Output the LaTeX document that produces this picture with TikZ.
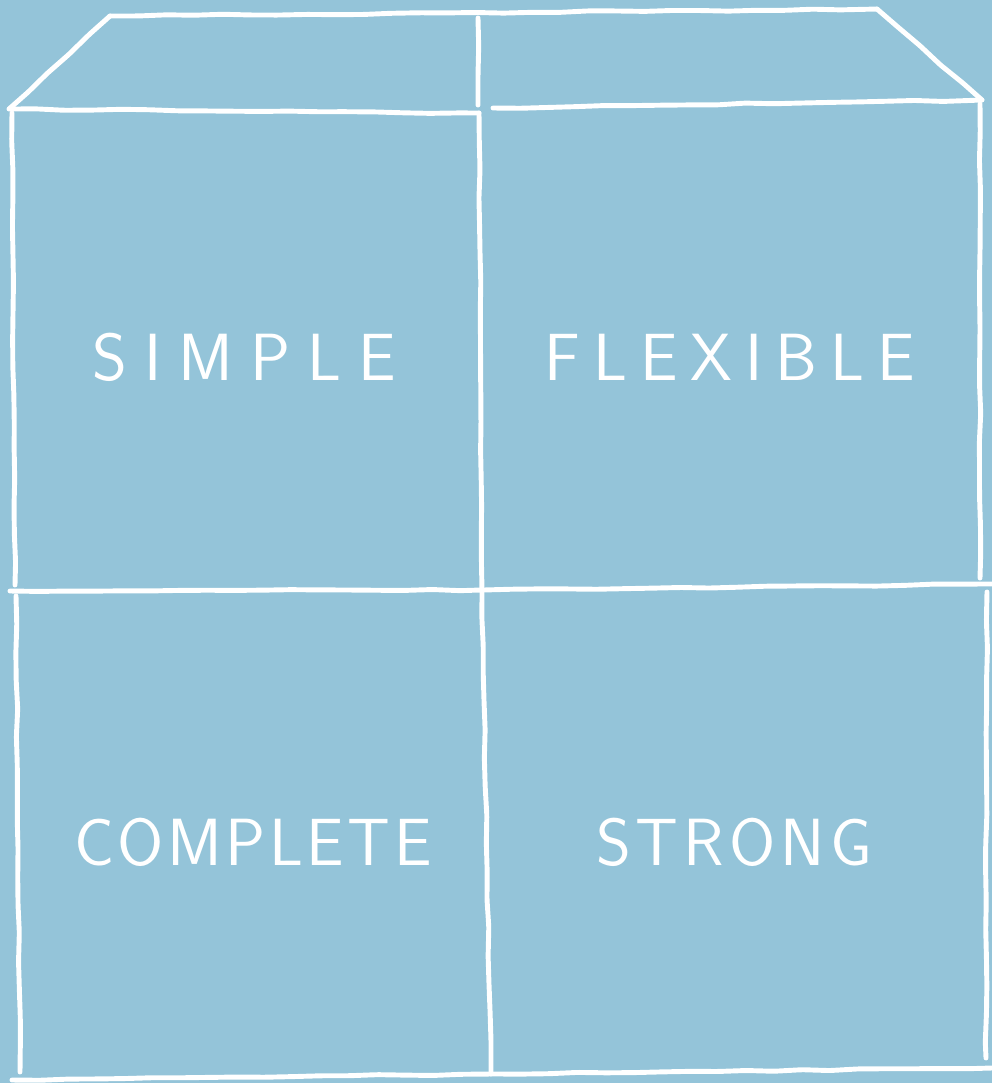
\documentclass[tikz,border=0pt]{standalone}
\usepackage{fontspec}
\usetikzlibrary{calc, decorations.pathmorphing}
\definecolor{cielo}{RGB}{148,196,217}
\newcommand{\spaziatura}[1]{\spaceskip #1 plus 0pt minus 0pt\relax}
\tikzset{
  tratto/.style={draw=white, line width=2.8pt, line cap=round, rounded corners=1pt,
    decorate, decoration={random steps, segment length=16pt, amplitude=0.45pt}},
  scritta/.style={text=white, inner sep=0pt,
    font={\sffamily\fontsize{38}{40}\selectfont\spaziatura{#1}}},
}

\begin{document}
\begin{tikzpicture}[x=0.02cm, y=-0.02cm]
    % sfondo
    \fill[cielo] (0,0) rectangle (992,1083);
    \useasboundingbox (0,0) rectangle (992,1083);

    % punti
    \coordinate (TL) at (110,16);
    \coordinate (TR) at (877,9);
    \coordinate (TM) at (478,18);
    \coordinate (FL) at (9,109);
    \coordinate (FM) at (479,113);
    \coordinate (FMr) at (493,108);
    \coordinate (FR) at (982,100);
    \coordinate (ML) at (10,591);
    \coordinate (MM) at (482,590);
    \coordinate (MR) at (992,584);
    \coordinate (BL) at (12,1080);
    \coordinate (BM) at (491,1074);
    \coordinate (BR) at (992,1068);

    % coperchio
    \draw[tratto] (TL) -- (TR);
    \draw[tratto] (TL) -- (FL);
    \draw[tratto] (TR) -- (FR);
    \draw[tratto] (TM) -- (478,105);

    % bordi orizzontali
    \draw[tratto] (FL) -- (FM);
    \draw[tratto] (FMr) -- (FR);
    \draw[tratto] (ML) -- (MM) -- (MR);
    \draw[tratto] (BL) -- (BM) -- (BR);

    % bordi verticali
    \draw[tratto] (12,113) -- (15,585);
    \draw[tratto] (16,596) -- (20,1072);
    \draw[tratto] (FM) -- (MM);
    \draw[tratto] (MM) -- (BM);
    \draw[tratto] (980,104) -- (980,578);
    \draw[tratto] (987,592) -- (986,1058);

    % etichette
    \node[scritta=9.7pt] (simple) at (244,357) {S I M P L E};
    \node[scritta=7.4pt] (flexible) at (730,357) {F L E X I B L E};
    \node[scritta=2pt] (complete) at (253,842) {C O M P L E T E};
    \node[scritta=2.9pt] (strong) at (734,842) {S T R O N G};
\end{tikzpicture}
\end{document}
